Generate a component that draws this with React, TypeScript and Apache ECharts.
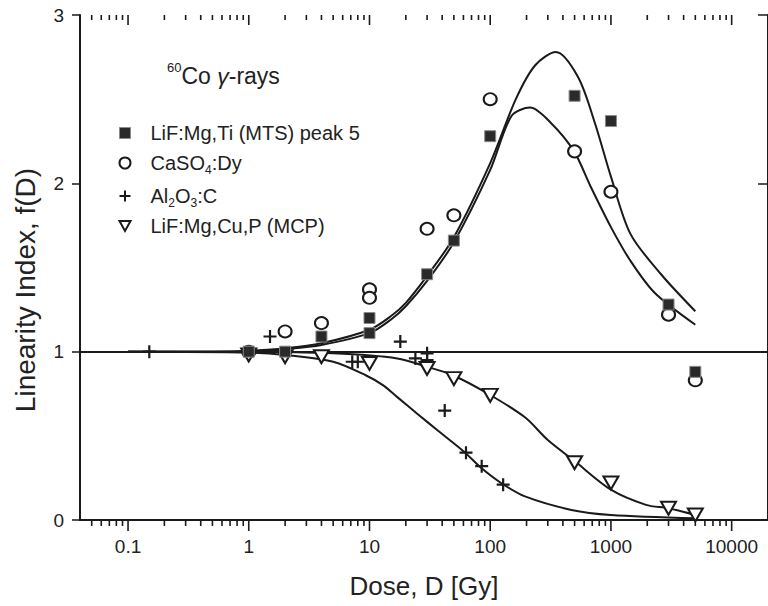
import React, { useEffect, useRef } from "react";
import * as echarts from "echarts";

const FONT = "'Liberation Sans', Arial, Helvetica, sans-serif";
const INK = "#1a1a1a";

// x tick labels (log axis)
const xTickValues = [0.1, 1, 10, 100, 1000, 10000];
const xTickLabels = ["0.1", "1", "10", "100", "1000", "10000"];
const yTickLabels = ["0", "1", "2", "3"];
const minorMultipliers = [2, 3, 4, 5, 6, 7, 8, 9];
const minorDecades = [0.01, 0.1, 1, 10, 100, 1000];

// measured points [dose Gy, f(D)]
const mtsPoints = [
  [1, 1.0], [2, 1.0], [4, 1.09], [10, 1.2], [10, 1.11], [30, 1.46], [50, 1.66],
  [100, 2.28], [500, 2.52], [1000, 2.37], [3000, 1.28], [5000, 0.88],
];
const caso4Points = [
  [1, 1.0], [2, 1.12], [4, 1.17], [10, 1.37], [10, 1.32], [30, 1.73], [50, 1.81],
  [100, 2.5], [500, 2.19], [1000, 1.95], [3000, 1.22], [5000, 0.83],
];
const al2o3Points = [
  [0.15, 1.0], [1.5, 1.09], [7.2, 0.94], [8, 0.94], [18, 1.06], [24, 0.96],
  [30, 0.99], [30, 0.95], [42, 0.65], [63, 0.4], [85, 0.32], [128, 0.21],
];
const mcpPoints = [
  [1, 0.98], [2, 0.97], [4, 0.97], [10, 0.93], [30, 0.9], [50, 0.84], [100, 0.74],
  [500, 0.34], [1000, 0.22], [3000, 0.07], [5000, 0.03],
];

// fitted curves
const mtsCurve = [
  [0.1, 1], [0.5, 1.0], [1, 1.005], [2, 1.02], [4, 1.05], [10, 1.13], [15, 1.21],
  [20, 1.29], [30, 1.45], [50, 1.68], [100, 2.12], [163, 2.5], [235, 2.7], [350, 2.78],
  [535, 2.63], [735, 2.36], [1000, 2.04], [1450, 1.7], [2600, 1.46], [5000, 1.24],
];
const caso4Curve = [
  [0.1, 1], [0.5, 1.0], [1, 1.0], [2, 1.015], [4, 1.04], [10, 1.11], [15, 1.19],
  [20, 1.27], [30, 1.42], [50, 1.65], [100, 2.08], [150, 2.4], [214, 2.45], [317, 2.36],
  [495, 2.19], [680, 1.98], [1000, 1.74], [1450, 1.54], [2300, 1.35], [5000, 1.16],
];
const al2o3Curve = [
  [0.1, 1], [1, 0.995], [2, 0.98], [5, 0.94], [9.3, 0.86], [13, 0.8], [17, 0.73],
  [25, 0.63], [37, 0.53], [62, 0.4], [84, 0.31], [123, 0.22], [194, 0.14], [470, 0.06],
  [1000, 0.03], [5000, 0.01],
];
const mcpCurve = [
  [0.1, 1], [1, 1.0], [5, 0.99], [17, 0.96], [30, 0.91], [49, 0.86], [96, 0.75],
  [194, 0.61], [300, 0.475], [500, 0.35], [1000, 0.18], [1950, 0.09], [3000, 0.07],
  [5000, 0.03],
];

const NAMES = {
  mts: "LiF:Mg,Ti (MTS) peak 5",
  caso4: "CaSO4:Dy",
  al2o3: "Al2O3:C",
  mcp: "LiF:Mg,Cu,P (MCP)",
};
const LEGEND_RICH: Record<string, string> = {
  [NAMES.mts]: "{sp| }{a|LiF:Mg,Ti (MTS) peak 5}",
  [NAMES.caso4]: "{sp| }{a|CaSO}{s|4}{a|:Dy}",
  [NAMES.al2o3]: "{sp| }{a|Al}{s|2}{a|O}{s|3}{a|:C}",
  [NAMES.mcp]: "{sp| }{a|LiF:Mg,Cu,P (MCP)}",
};

const PLUS = "path://M5,0L5,10M0,5L10,5";

export default function App() {
  const ref = useRef<HTMLDivElement>(null);
  useEffect(() => {
    if (!ref.current) return;
    const chart = echarts.init(ref.current, undefined, { renderer: "svg" });
    const xTicks: number[][] = [];
    xTickValues.forEach((v) => xTicks.push([v, 1]));
    minorDecades.forEach((d) =>
      minorMultipliers.forEach((m) => {
        const v = +(d * m).toPrecision(6);
        if (v > 0.04 && v < 20000) xTicks.push([v, 0]);
      })
    );
    const curveSeries = (data: number[][]) => ({
      type: "line",
      data,
      symbol: "none",
      smooth: 0.3,
      xAxisIndex: 0,
      yAxisIndex: 0,
      lineStyle: { color: INK, width: 2 },
      silent: true,
      z: 3,
    });
    const option: any = {
      animation: false,
      backgroundColor: "#ffffff",
      textStyle: { fontFamily: FONT },
      title: {
        left: 167,
        top: 60.5,
        padding: 0,
        text: "{sup|60}{a|Co }{g|γ}{a|-rays}",
        textStyle: {
          fontWeight: "normal",
          rich: {
            sup: { fontSize: 13, lineHeight: 13, verticalAlign: "top", color: "#222", fontFamily: FONT, fontWeight: "normal" },
            a: { fontSize: 23, lineHeight: 24, padding: [6, 0, 0, 0], color: "#222", fontFamily: FONT, fontWeight: "normal" },
            g: { fontSize: 23, lineHeight: 24, padding: [6, 0, 0, 0], color: "#222", fontFamily: FONT, fontStyle: "italic", fontWeight: "normal" },
          },
        },
      },
      legend: {
        orient: "vertical",
        left: 117,
        top: 123,
        padding: 0,
        itemWidth: 11,
        itemHeight: 11,
        itemGap: 7,
        selectedMode: false,
        formatter: (name: string) => LEGEND_RICH[name] || name,
        textStyle: {
          color: "#222",
          rich: {
            sp: { width: 15, fontSize: 20, lineHeight: 22 },
            a: { fontSize: 20, lineHeight: 22, color: "#222", fontFamily: FONT },
            s: { fontSize: 12, lineHeight: 6, padding: [14, 0, 0, 0], color: "#222", fontFamily: FONT },
          },
        },
        data: [
          { name: NAMES.mts, icon: "rect", itemStyle: { color: "#2a2a2a", borderColor: "#8a8a8a", borderWidth: 1 } },
          { name: NAMES.caso4, icon: "circle", itemStyle: { color: "#fff", borderColor: INK, borderWidth: 2 } },
          { name: NAMES.al2o3, icon: PLUS, itemStyle: { color: "none", borderColor: INK, borderWidth: 2 } },
          { name: NAMES.mcp, icon: "path://M0,0L10,0L5,9Z", itemStyle: { color: "#fff", borderColor: INK, borderWidth: 2 } },
        ],
      },
      grid: { left: 80, top: 15, width: 690, height: 505, containLabel: false },
      xAxis: [
        {
          type: "log",
          logBase: 10,
          min: 0.04,
          max: 20000,
          position: "bottom",
          axisLine: { lineStyle: { color: INK, width: 2 } },
          axisTick: { show: false },
          axisLabel: {
            fontSize: 19,
            color: "#222",
            margin: 17,
            showMinLabel: false,
            showMaxLabel: false,
            formatter: (v: number) => {
              const i = xTickValues.findIndex((t) => Math.abs(Math.log10(t) - Math.log10(v)) < 1e-6);
              return i >= 0 ? xTickLabels[i] : "";
            },
          },
          splitLine: { show: false },
          name: "Dose, D [Gy]",
          nameLocation: "middle",
          nameGap: 53,
          nameTextStyle: { fontSize: 26, color: "#222", fontFamily: FONT },
        },
        {
          type: "log",
          logBase: 10,
          min: 0.04,
          max: 20000,
          position: "top",
          axisLine: { lineStyle: { color: INK, width: 2 } },
          axisTick: { show: false },
          axisLabel: { show: false },
          splitLine: { show: false },
        },
      ],
      yAxis: [
        {
          type: "value",
          min: 0,
          max: 3,
          interval: 1,
          position: "left",
          axisLine: { show: true, lineStyle: { color: INK, width: 2 } },
          axisTick: { show: true, length: 8, lineStyle: { color: INK, width: 1.5 } },
          axisLabel: {
            fontSize: 19,
            color: "#222",
            margin: 16,
            formatter: (v: number) => yTickLabels[Math.round(v)] ?? "",
          },
          splitLine: { show: false },
        },
        {
          type: "value",
          min: 0,
          max: 3,
          interval: 1,
          position: "right",
          axisLine: { show: true, lineStyle: { color: INK, width: 2 } },
          axisTick: { show: true, inside: true, length: 10, lineStyle: { color: INK, width: 1.5 } },
          axisLabel: { show: false },
          splitLine: { show: false },
        },
      ],
      graphic: [
        {
          type: "text",
          x: 25,
          y: 290,
          rotation: Math.PI / 2,
          style: {
            text: "Linearity Index, f(D)",
            fontSize: 28,
            fontFamily: FONT,
            fill: "#222",
            align: "center",
            verticalAlign: "middle",
          },
        },
      ],
      series: [
        {
          type: "custom",
          name: "xTicks",
          xAxisIndex: 0,
          yAxisIndex: 0,
          data: xTicks,
          silent: true,
          z: 10,
          renderItem: (params: any, api: any) => {
            const v = api.value(0);
            const major = api.value(1) === 1;
            const pb = api.coord([v, 0]);
            const pt = api.coord([v, 3]);
            const lb = major ? 11 : 6;
            const lt = major ? 10 : 5;
            return {
              type: "group",
              children: [
                { type: "line", shape: { x1: pb[0], y1: pb[1], x2: pb[0], y2: pb[1] + lb }, style: { stroke: INK, lineWidth: 1.6 } },
                { type: "line", shape: { x1: pt[0], y1: pt[1], x2: pt[0], y2: pt[1] + lt }, style: { stroke: INK, lineWidth: 1.6 } },
              ],
            };
          },
        },
        {
          ...curveSeries(mtsCurve),
          markLine: {
            symbol: "none",
            silent: true,
            label: { show: false },
            lineStyle: { color: INK, width: 2, type: "solid" },
            data: [{ yAxis: 1 }],
          },
        },
        curveSeries(caso4Curve),
        curveSeries(al2o3Curve),
        curveSeries(mcpCurve),
        {
          type: "scatter",
          name: NAMES.mts,
          data: mtsPoints,
          symbol: "rect",
          symbolSize: 11,
          itemStyle: { color: "#2a2a2a", borderColor: "#8a8a8a", borderWidth: 1, opacity: 1 },
          z: 6,
        },
        {
          type: "scatter",
          name: NAMES.caso4,
          data: caso4Points,
          symbol: "emptyCircle",
          symbolSize: [13, 12],
          itemStyle: { color: INK, borderColor: INK, borderWidth: 2, opacity: 1 },
          z: 5,
        },
        {
          type: "scatter",
          name: NAMES.al2o3,
          data: al2o3Points,
          symbol: PLUS,
          symbolSize: 13,
          itemStyle: { color: "none", borderColor: INK, borderWidth: 2.2, opacity: 1 },
          z: 5,
        },
        {
          type: "scatter",
          name: NAMES.mcp,
          data: mcpPoints,
          symbol: "emptyTriangle",
          symbolRotate: 180,
          symbolSize: [15, 13],
          itemStyle: { color: INK, borderColor: INK, borderWidth: 2, opacity: 1 },
          z: 5,
        },
      ],
    };
    chart.setOption(option);
    return () => chart.dispose();
  }, []);
  return (
    <div
      ref={ref}
      style={{ position: "fixed", left: 0, top: 0, width: 768, height: 606, background: "#fff" }}
    />
  );
}
